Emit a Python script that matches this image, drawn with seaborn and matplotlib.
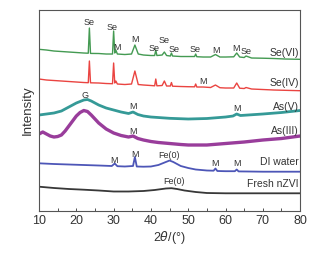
import matplotlib
matplotlib.use("Agg")
import matplotlib.pyplot as plt
import seaborn as sns
import pandas as pd
from matplotlib.ticker import MultipleLocator

# Data (arbitrary intensity units, stacked)
se6_x = [10, 12, 14, 16, 18, 20, 22, 23.2, 23.5, 23.8, 26, 28, 29.7, 30.0, 30.3, 30.6, 31, 33, 34.8, 35.7,
         36.6, 38, 40, 41.0, 41.3, 41.6, 43, 43.6, 44.2, 45.2, 45.5, 45.8, 48, 50, 51.7, 52.0, 52.3, 54, 56,
         57.3, 58.5, 60, 62.2, 63.0, 63.8, 65.0, 65.5, 67, 70, 73, 76, 80]
se6_y = [161.7, 161, 160, 159.5, 159, 158.5, 158, 157.8, 183, 157.6, 157.5, 157, 157, 180, 158, 161, 157, 156.5,
         157, 166, 157, 156, 155.5, 155.5, 161, 155.5, 156, 159, 155.5, 155, 158, 155, 154.5, 154.5, 154.5, 157,
         154.3, 154, 154, 156.5, 154, 154, 154.2, 158, 154, 153.5, 155, 153, 152.8, 152.5, 152, 151.7]

se4_x = se6_x
se4_y = [132, 131, 130.5, 130, 129.5, 129, 128.5, 128.3, 150, 128.2, 128, 127.5, 127.3, 148, 128, 130, 127, 126.5,
         127, 140, 126.5, 126, 125.5, 125.2, 132, 125.2, 125.5, 130, 125, 125, 128.5, 124.8, 124.5, 124.3, 124.2,
         127, 124, 124, 123.5, 126, 123.3, 123, 123, 128, 122.8, 122.5, 123.5, 122, 121.5, 121, 120.7, 120.3]

as5_x = [10, 12, 14, 16, 18, 20, 22, 23, 24, 26, 28, 30, 32, 34, 35.2, 36.5, 38, 40, 45, 50, 55, 60, 62, 63, 64,
         66, 70, 75, 80]
as5_y = [96, 97, 98, 100, 104, 108, 111, 111.5, 110, 106, 103, 101, 99, 97.5, 99, 96.5, 95, 94, 92.7, 92, 92.5,
         94, 95, 97, 95.5, 96, 97, 98.5, 100.5]

as3_x = [10, 11, 12, 13, 14, 15, 16, 17, 18, 19, 20, 21, 22, 23, 24, 25, 26, 27, 28, 30, 32, 34, 35.2, 36.5, 38,
         40, 42, 45, 48, 50, 55, 60, 65, 70, 75, 80]
as3_y = [77, 79, 77, 75, 74, 74.5, 76, 80, 85, 90, 95, 98.5, 100.5, 99.5, 96, 92, 88, 85, 82, 78, 75.5, 74,
         75, 72.5, 71, 69.5, 68.5, 67.5, 66.5, 66, 66, 67.5, 69, 71, 72.5, 75]

di_x = [10, 14, 18, 22, 26, 29.5, 30.3, 31, 33, 35.2, 35.7, 36.2, 38, 40, 42, 44, 45, 46, 48, 50, 52, 55, 56.8,
        57.3, 57.8, 60, 62.5, 63, 63.5, 66, 70, 75, 80]
di_y = [47.7, 47, 46.5, 46, 45.5, 45, 47.5, 44.8, 44.5, 45, 54, 44.5, 44.3, 44.5, 46, 49, 50.5, 49, 45, 43, 41.5,
        40.5, 40.3, 42.5, 40, 39.8, 39.8, 41.5, 39.6, 39.5, 39.3, 39.3, 39.3]

fresh_x = [10, 14, 18, 22, 26, 30, 34, 38, 41, 44, 45.5, 47, 49, 52, 55, 60, 70, 80]
fresh_y = [24.3, 23, 22, 21.3, 20.5, 19.5, 19.5, 20, 21, 22.5, 22.8, 22, 20.5, 19, 18, 17.7, 17.7, 17.7]

samples = ["Se(VI)", "Se(IV)", "As(V)", "As(III)", "DI water", "Fresh nZVI"]
xs = [se6_x, se4_x, as5_x, as3_x, di_x, fresh_x]
ys = [se6_y, se4_y, as5_y, as3_y, di_y, fresh_y]
colors = ["#2f8f3f", "#e8302c", "#1f8f8c", "#8e2890", "#3a44b0", "#222222"]
widths = [1.0, 1.0, 2.0, 2.4, 1.3, 1.3]
label_y = [158.3, 128.3, 104.3, 80.0, 48.7, 26.7]

# peak annotations: (2theta, y, text)
peak_labels = [
    (23.3, 188.3, "Se"), (29.5, 183.7, "Se"), (30.9, 163.7, "M"), (35.7, 171.7, "M"),
    (40.8, 162.5, "Se"), (43.5, 170.5, "Se"), (46.1, 161.7, "Se"), (51.9, 161.7, "Se"),
    (57.4, 161.0, "M"), (62.7, 162.3, "M"), (65.6, 159.3, "Se"),
    (53.9, 129.3, "M"),
    (22.4, 116.0, "G"), (35.2, 105.0, "M"), (63.0, 102.7, "M"),
    (35.2, 80.0, "M"),
    (30.0, 51.0, "M"), (35.7, 56.7, "M"), (44.8, 56.0, "Fe(0)"), (57.2, 47.7, "M"), (63.0, 47.7, "M"),
    (46.1, 29.3, "Fe(0)"),
]

sns.set_style("ticks")
plt.rcParams['font.family'] = ['Liberation Sans', 'DejaVu Sans']

fig = plt.figure(figsize=(3.28, 2.57), dpi=100)
ax = fig.add_axes([0.119, 0.179, 0.796, 0.782])

for name, x, y, c, w in zip(samples, xs, ys, colors, widths):
    df = pd.DataFrame({"two_theta": x, "intensity": y})
    sns.lineplot(data=df, x="two_theta", y="intensity", ax=ax, color=c, lw=w,
                 estimator=None, sort=False, alpha=0.9)

for name, ly in zip(samples, label_y):
    ax.text(79.6, ly, name, ha="right", va="center", fontsize=7.5, color="#333333")

for px, py, t in peak_labels:
    ax.text(px, py, t, ha="center", va="center", fontsize=6.5, color="#333333")

ax.set_xlim(10, 80)
ax.set_ylim(0, 201)
ax.xaxis.set_major_locator(MultipleLocator(10))
ax.xaxis.set_minor_locator(MultipleLocator(5))
ax.tick_params(axis="x", which="both", direction="in", length=2.5, width=0.6,
               labelsize=9, colors="#333333", pad=3)
ax.set_yticks([])
ax.set_xlabel(r"2$\theta$/(°)", fontsize=9, color="#333333", labelpad=1)
ax.set_ylabel("Intensity", fontsize=9.5, color="#333333", labelpad=4)
for s in ax.spines.values():
    s.set_color("#555555")
    s.set_linewidth(0.8)

fig.savefig("out.png", dpi=100)
